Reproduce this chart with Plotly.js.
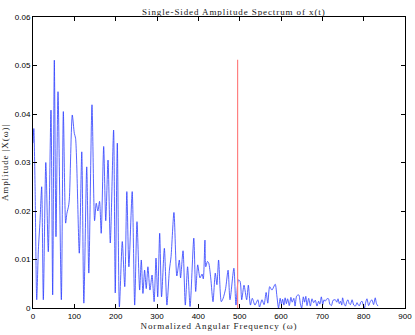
<!DOCTYPE html>
<html>
<head>
<meta charset="utf-8">
<script src="https://cdn.plot.ly/plotly-3.0.1.min.js"></script>
<style>
html,body{margin:0;padding:0;background:#fff;}
#chart{width:415px;height:335px;}
.gtitle,.g-xtitle text,.g-ytitle text{letter-spacing:0.9px;}
</style>
</head>
<body>
<div id="chart"></div>
<script>
// Spectrum (normalized angular frequency vs amplitude)
const freq = [0,2,5,9,13,17,21,25,31,37,43.5,47.6,51.6,55.6,60.5,68.6,73.4,79,82,86,88,95,100,103,112,118,123,130,135,142.7,149,153,157,161,165,171,176,181.5,187,195,199,204,209,216,222,227,232,240,246,251.6,258,262,266,270,274,278,283,288,293,297.6,301.7,306.5,311,317.8,324,330,334,341,348,354,357,363,368.5,374,380,389,393.6,398.5,404,409,412,416,418,422,425,430,435.5,441,445,449,455.6,460,466,472,476.6,486,491,497,501,505,510.5,517,521,526,530.6,537,544,548,554,559,564,568,572.6,578,586,590,
  594,598,601,604,607,610,613,616,620,624,627,631,634,638,643,647,650,654,657,660,663,667,671,675,679,683,687,691,694,697.6,701,704,707,711,715,718,722,726,731.5,735,738,741,744,747,749,753,756,759,762,765,768,772,776,780,784,787,790,793,796,799,802,805,808,812,816,820,824,828,831,834.7];
const amplitude = [0.034,0.037,0.025,0.0017,0.012,0.018,0.025,0.0017,0.030,0.0116,0.0408,0.0027,0.0511,0.0147,0.0446,0.0017,0.0405,0.0175,0.0195,0.021,0.0225,0.0398,0.036,0.035,0.0113,0.0322,0.001,0.0291,0.0072,0.0419,0.018,0.0216,0.020,0.022,0.0154,0.0333,0.018,0.0305,0.0134,0.0367,0.0031,0.034,0.0002,0.0137,0.0044,0.024,0.0085,0.024,0.0006,0.0178,0.0037,0.0099,0.003,0.0078,0.004,0.0085,0.0037,0.0068,0.0013,0.0103,0.0023,0.0154,0.0023,0.0123,0.0006,0.0078,0.0106,0.0197,0.0066,0.0099,0.0062,0.0118,0.0006,0.0085,0.0003,0.0144,0.0034,0.0089,0.0062,0.007,0.006,0.014,0.0085,0.0096,0.0093,0.0062,0.0013,0.0072,0.0048,0.0099,0.0013,0.002,0.004,0.0078,0.0017,0.0082,0.0006,0.0058,0.0055,0.0017,0.0047,0.0017,0.0047,0.0006,0.002,0.0006,0.0017,0.0002,0.0017,0.0007,0.0032,0.001,0.0044,0.0037,0.0049,0.0025,
  0.0,0.002,0.0008,0.0018,0.0006,0.0021,0.0009,0.0019,0.0005,0.0022,0.0012,0.002,0.0004,0.0025,0.0027,0.0008,0.0,0.0023,0.0012,0.0024,0.0005,0.002,0.0004,0.0019,0.0011,0.0016,0.0004,0.0014,0.0008,0.0023,0.0007,0.0017,0.0014,0.0019,0.0019,0.0008,0.0005,0.0016,0.0017,0.0012,0.0019,0.0009,0.0014,0.0006,0.0021,0.0008,0.0004,0.0013,0.0017,0.0009,0.0007,0.0017,0.0006,0.0004,0.0011,0.0006,0.0005,0.0012,0.0014,0.0006,0.0,0.0012,0.0019,0.0005,0.0013,0.0017,0.0007,0.0021,0.0009,0.0004];
// Marker line
const markerFreq = [495,495];
const markerAmp = [0,0.0512];

const xTicks = [0,100,200,300,400,500,600,700,800,900];
const yTicks = [0,0.01,0.02,0.03,0.04,0.05,0.06];
const yTickText = ['0','0.01','0.02','0.03','0.04','0.05','0.06'];

const serif = 'Liberation Serif, DejaVu Serif, serif';
const sans = 'Liberation Sans, Arial, sans-serif';

const traces = [
  {x: freq, y: amplitude, type: 'scatter', mode: 'lines',
   line: {color: '#2b3cff', width: 0.8, shape: 'spline', smoothing: 0.7},
   hoverinfo: 'none', showlegend: false},
  {x: markerFreq, y: markerAmp, type: 'scatter', mode: 'lines',
   line: {color: '#ff8080', width: 1.2}, hoverinfo: 'none', showlegend: false}
];

const axisCommon = {
  showgrid: false, zeroline: false, showline: true, linecolor: '#000', linewidth: 1,
  mirror: 'ticks', ticks: 'inside', ticklen: 4, tickwidth: 1, tickcolor: '#000',
  tickfont: {family: sans, size: 8, color: '#000'}
};

const layout = {
  width: 415, height: 335,
  margin: {l: 33, r: 10, t: 17, b: 27},
  paper_bgcolor: '#fff', plot_bgcolor: '#fff',
  title: {text: 'Single-Sided Amplitude Spectrum of x(t)',
          font: {family: serif, size: 9, color: '#222'},
          x: 0.54, xref: 'paper', xanchor: 'center', y: 0.965, yref: 'container', yanchor: 'middle'},
  xaxis: Object.assign({}, axisCommon, {
    range: [0, 900], tickvals: xTicks, ticktext: xTicks.map(String),
    title: {text: 'Normalized Angular Frequency (ω)', font: {family: serif, size: 9, color: '#222'}, standoff: 3}
  }),
  yaxis: Object.assign({}, axisCommon, {
    range: [0, 0.06], tickvals: yTicks, ticktext: yTickText,
    title: {text: 'Amplitude |X(ω)|', font: {family: serif, size: 9, color: '#222'}, standoff: 4}
  })
};

Plotly.newPlot('chart', traces, layout, {staticPlot: true, displayModeBar: false});
</script>
</body>
</html>
